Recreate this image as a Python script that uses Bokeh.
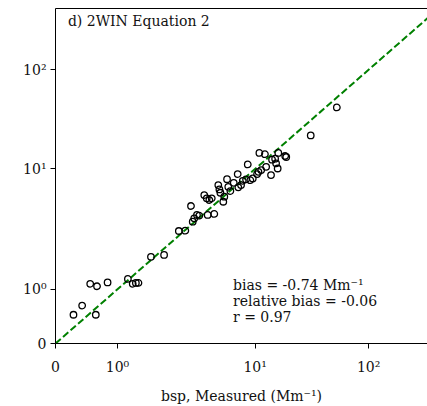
import numpy as np
from bokeh.plotting import figure
from bokeh.models import Range1d, FixedTicker, LinearAxis, Label
from bokeh.embed import file_html
from bokeh.resources import INLINE

# measured vs reconstructed bsp (Mm^-1)
measured = [0.29, 0.43, 0.65, 0.56, 0.67, 0.84, 1.19, 1.29, 1.36, 1.42,
            1.75, 2.18, 2.79, 3.11, 3.42, 3.52, 3.61, 3.78, 3.93, 4.52,
            5.05, 4.27, 4.45, 4.65, 4.84, 5.40, 5.50, 5.59, 5.87, 5.97,
            6.25, 6.38, 6.61, 6.99, 7.47, 7.55, 7.90, 8.13, 8.59, 8.84,
            9.23, 9.61, 10.4, 10.7, 10.9, 11.3, 12.2, 12.5, 13.8, 14.1,
            15.0, 15.3, 15.8, 16.0, 18.4, 18.8, 30.9, 52.5]
reconstructed = [0.53, 0.70, 0.53, 1.11, 1.06, 1.14, 1.22, 1.11, 1.13, 1.13,
                 1.86, 1.93, 3.05, 3.07, 4.92, 3.65, 3.89, 4.15, 4.09, 4.15,
                 4.23, 6.07, 5.70, 5.52, 5.70, 7.34, 6.76, 6.34, 5.34, 5.88,
                 8.23, 7.11, 6.55, 7.67, 9.06, 7.03, 7.34, 7.97, 8.19, 11.1,
                 8.07, 8.34, 9.06, 9.46, 14.5, 9.78, 14.1, 10.5, 8.89, 12.4,
                 12.7, 11.4, 10.1, 14.5, 13.5, 13.2, 21.8, 41.7]
one_to_one = [0.0, 1000.0]
tick_values = [0, 1, 10, 100]
tick_labels = ["0", "10\u2070", "10\u00b9", "10\u00b2"]
stats = ["bias = -0.74 Mm\u207b\u00b9", "relative bias = -0.06", "r = 0.97"]


def tr(v):
    # symlog-like axis transform used by the reference (linear below 1)
    v = np.asarray(v, dtype=float)
    lv = np.log10(np.maximum(v, 1e-9))
    return np.where(v < 1, v, np.where(v < 10, 1 + 2.22 * lv, 3.22 + 1.83 * (lv - 1)))


FONT = "DejaVu Serif"

p = figure(width=427, height=406, output_backend="svg", toolbar_location=None,
           x_range=Range1d(0, 6.0), y_range=Range1d(0, 6.18),
           min_border_left=55, min_border_right=0, min_border_top=8,
           min_border_bottom=62)
p.xgrid.visible = False
p.ygrid.visible = False
p.outline_line_color = None
p.background_fill_color = "white"

tv = [float(t) for t in tr(tick_values)]
overrides = {t: l for t, l in zip(tv, tick_labels)}
for ax in (p.xaxis[0], p.yaxis[0]):
    ax.ticker = FixedTicker(ticks=tv, minor_ticks=[])
    ax.major_label_overrides = overrides
    ax.major_label_text_font = FONT
    ax.major_label_text_font_size = "14px"
    ax.major_label_text_color = "#111111"
    ax.axis_line_color = "black"
    ax.axis_line_width = 1
    ax.major_tick_line_color = "black"
    ax.major_tick_out = 5
    ax.major_tick_in = 0
    ax.minor_tick_line_color = None
    ax.major_label_standoff = 4
p.xaxis.major_label_standoff = 10

p.xaxis.axis_label = "bsp, Measured (Mm\u207b\u00b9)"
p.xaxis.axis_label_text_font = FONT
p.xaxis.axis_label_text_font_size = "14px"
p.xaxis.axis_label_text_font_style = "normal"
p.xaxis.axis_label_text_color = "#111111"
p.xaxis.axis_label_standoff = 10

top = LinearAxis(ticker=FixedTicker(ticks=[], minor_ticks=[]),
                 major_label_text_font_size="0px", major_tick_out=0,
                 major_tick_in=0, minor_tick_out=0, minor_tick_in=0,
                 axis_line_color="black", axis_line_width=1, major_label_standoff=0)
p.add_layout(top, "above")

line_t = tr(one_to_one)
p.line(line_t, line_t, line_color="green", line_width=2, line_dash="7 3")

p.scatter(tr(measured), tr(reconstructed), marker="circle", size=6.5,
          fill_color=None, line_color="black", line_width=1.3)

p.add_layout(Label(x=0.2, y=6.1, text="d) 2WIN Equation 2", text_font=FONT,
                   text_font_size="14px", text_baseline="top", text_color="#111111"))
ys = [1.083, 0.789, 0.494]
for s, yy in zip(stats, ys):
    p.add_layout(Label(x=2.863, y=yy, text=s, text_font=FONT, text_font_size="14px",
                       text_baseline="alphabetic", text_color="#111111"))

open("out.html", "w").write(file_html(p, INLINE))
